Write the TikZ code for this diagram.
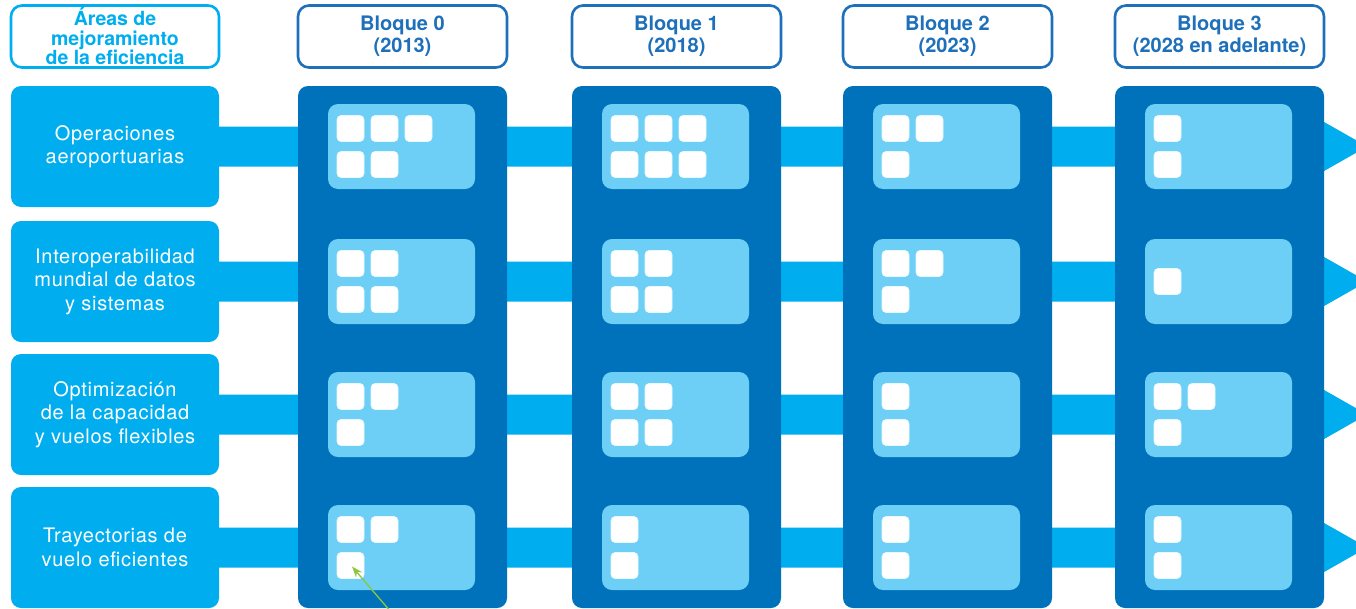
\documentclass[tikz,border=0pt]{standalone}
\usepackage{fontspec}
\setmainfont{TeX Gyre Heros}
\usetikzlibrary{arrows.meta,calc}
\definecolor{cyanb}{HTML}{00AEEF}
\definecolor{darkb}{HTML}{0072BC}
\definecolor{cardb}{HTML}{6DCFF6}
\definecolor{headb}{HTML}{1F70BA}
\definecolor{greenarr}{HTML}{8DC63F}
\begin{document}
\begin{tikzpicture}[x=1pt,y=-1pt,
  rowbox/.style={fill=cyanb, rounded corners=10pt, minimum width=208pt, minimum height=121pt, inner sep=0pt, text=white, align=center, font=\fontsize{20}{23.5}\selectfont\addfontfeature{LetterSpace=3.5}},
  areahead/.style={draw=cyanb, line width=2.6pt, fill=white, rounded corners=11pt, minimum width=208pt, minimum height=62pt, inner sep=0pt, text=cyanb, align=center, font=\bfseries\fontsize{19.5}{19.5}\selectfont},
  blockhead/.style={draw=headb, line width=2.6pt, fill=white, rounded corners=11pt, minimum width=209pt, minimum height=62pt, inner sep=0pt, text=headb, align=center, font=\bfseries\fontsize{20}{22}\selectfont},
  colbox/.style={fill=darkb, rounded corners=10pt, minimum width=209pt, minimum height=522pt, inner sep=0pt},
  cardbox/.style={fill=cardb, rounded corners=10pt, minimum width=147pt, minimum height=85pt, inner sep=0pt},
  sqbox/.style={fill=white, draw=white!85!cardb, line width=0.6pt, rounded corners=4pt, minimum width=27pt, minimum height=26pt, inner sep=0pt},
  bandfill/.style={fill=cyanb},
  greenline/.style={draw=greenarr, line width=1.3pt, -{Stealth[length=11pt,width=8pt]}}
]
\path[use as bounding box] (0,0) rectangle (1356,608);
\clip (0,0) rectangle (1356,608);

% left column
\node[areahead] (areas) at (115,36.5) {Áreas de\\mejoramiento\\de la eficiencia};
\node[rowbox] (row1) at (115,146.5) {Operaciones\\aeroportuarias};
\node[rowbox] (row2) at (115,281.5) {Interoperabilidad\\mundial de datos\\y sistemas};
\node[rowbox] (row3) at (115,414.5) {Optimización\\de la capacidad\\y vuelos flexibles};
\node[rowbox] (row4) at (115,547.5) {Trayectorias de\\vuelo eficientes};

% bands with arrow heads
\foreach \r in {1,2,3,4} {
  \coordinate (tip\r) at ($(row\r.east)+(1148,0)$);
  \fill[bandfill] ($(row\r.east)+(0,-20)$) -- ($(tip\r)+(-44,-20)$) -- ($(tip\r)+(-44,-25)$) -- (tip\r)
     -- ($(tip\r)+(-44,25)$) -- ($(tip\r)+(-44,20)$) -- ($(row\r.east)+(0,20)$) -- cycle;
}

% block headers and columns
\node[blockhead] (head0) at (402.5,36.5) {Bloque 0\\(2013)};
\node[blockhead] (head1) at (676.5,36.5) {Bloque 1\\(2018)};
\node[blockhead] (head2) at (947.5,36.5) {Bloque 2\\(2023)};
\node[blockhead] (head3) at (1219.5,36.5) {Bloque 3\\(2028 en adelante)};
\foreach \b/\xc in {0/402.5,1/676.5,2/947.5,3/1219.5}
  \node[colbox] (col\b) at (\xc,347) {};

% cards and squares
\foreach \r/\b/\t/\u in {1/0/3/2, 1/1/3/3, 1/2/2/1, 1/3/1/1,
                         2/0/2/2, 2/1/2/2, 2/2/2/1, 2/3/1/0,
                         3/0/2/1, 3/1/2/2, 3/2/1/1, 3/3/2/1,
                         4/0/2/1, 4/1/1/1, 4/2/1/1, 4/3/1/1} {
  \pgfmathsetmacro\xl{{298,572,843,1115}[\b]}
  \pgfmathsetmacro\yc{{146.5,281.5,414.5,547.5}[\r-1]}
  \pgfmathsetmacro\ya{\u==0 ? \yc : \yc-18}
  \pgfmathsetmacro\yb{\yc+18}
  \node[cardbox] (card-\r-\b) at (\xl+103.5,\yc) {};
  \foreach \k in {1,...,\t}
    \node[sqbox] (sq-\r-\b-a\k) at ({\xl+52.5+34*(\k-1)},\ya) {};
  \ifnum\u>0
    \foreach \k in {1,...,\u}
      \node[sqbox] (sq-\r-\b-b\k) at ({\xl+52.5+34*(\k-1)},\yb) {};
  \fi
}

% green pointer
\coordinate (gfoot) at (391,612);
\draw[greenline] (gfoot) -- ($(sq-4-0-b1.center)+(1.5,1)$);
\end{tikzpicture}
\end{document}
